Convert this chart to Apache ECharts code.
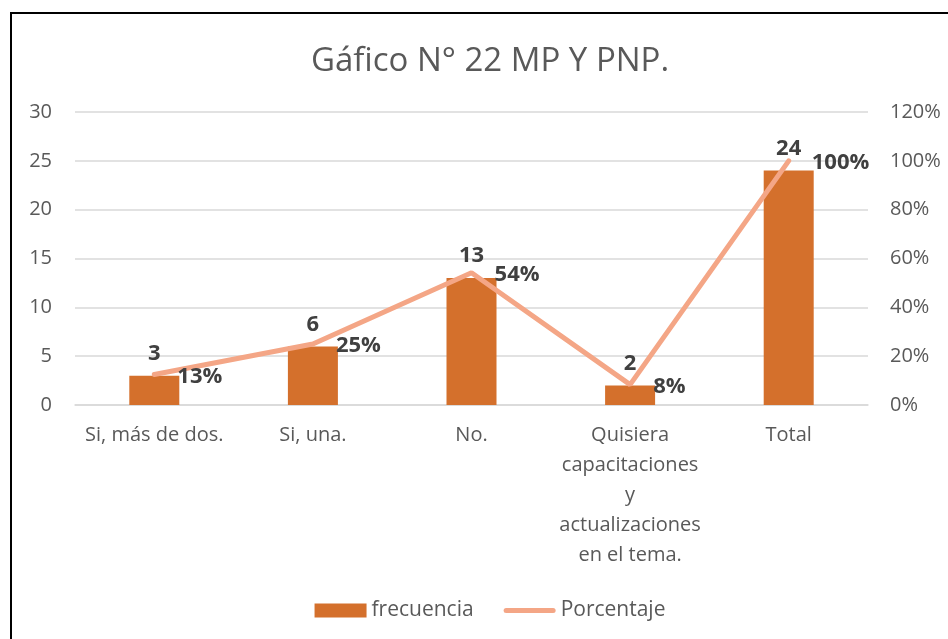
<!DOCTYPE html>
<html>
<head>
<meta charset="utf-8">
<script src="https://cdn.jsdelivr.net/npm/echarts@6/dist/echarts.min.js"></script>
<style>
  html, body { margin: 0; padding: 0; width: 948px; height: 639px; overflow: hidden; background: #fff; }
  #frame { position: absolute; left: 10px; top: 12px; width: 1000px; height: 700px; border: 2px solid #000; }
  #chart { position: absolute; left: 12px; top: 14px; width: 956px; height: 640px; }
</style>
</head>
<body>
<div id="frame"></div>
<div id="chart"></div>
<script>
// datos del gráfico
var categorias = ['Si, más de dos.', 'Si, una.', 'No.', 'Quisiera capacitaciones y actualizaciones en el tema.', 'Total'];
var frecuencia = [3, 6, 13, 2, 24];
var porcentaje = [12.5, 25, 54.17, 8.33, 100];
var ticksIzq = [0, 5, 10, 15, 20, 25, 30];
var ticksDer = [0, 20, 40, 60, 80, 100, 120];

var miChart = echarts.init(document.getElementById('chart'));
var fuente = '"Open Sans", "Noto Sans", sans-serif';
var colorBarra = '#D4702C';
var colorLinea = '#F4A686';

// corta las etiquetas por palabras según el ancho disponible
var ctx = document.createElement('canvas').getContext('2d');
ctx.font = '20px ' + fuente;
function envolver(texto) {
    var palabras = texto.split(' ');
    var lineas = [];
    var actual = '';
    palabras.forEach(function (w) {
        var prueba = actual ? actual + ' ' + w : w;
        if (actual && ctx.measureText(prueba).width > 148) {
            lineas.push(actual);
            actual = w;
        } else {
            actual = prueba;
        }
    });
    lineas.push(actual);
    return lineas.join('\n');
}

var option = {
    animation: false,
    title: {
        text: 'Gáfico N° 22 MP Y PNP.',
        left: 'center',
        top: 26,
        textStyle: { fontFamily: fuente, fontSize: 33, fontWeight: 'normal', color: '#595959' }
    },
    legend: {
        left: 'center',
        top: 581,
        itemWidth: 52,
        itemHeight: 14,
        itemGap: 30,
        textStyle: { fontFamily: fuente, fontSize: 21, color: '#595959' },
        data: [
            { name: 'frecuencia', icon: 'rect' },
            { name: 'Porcentaje', icon: 'path://M2.5,0L49.5,0A2.5,2.5,0,0,1,49.5,5L2.5,5A2.5,2.5,0,0,1,2.5,0Z', itemStyle: { color: colorLinea } }
        ]
    },
    grid: { left: 63, right: 100, top: 98, bottom: 249 },
    xAxis: {
        type: 'category',
        data: categorias,
        axisLine: { lineStyle: { color: '#D9D9D9', width: 1.5 } },
        axisTick: { show: false },
        axisLabel: {
            interval: 0,
            margin: 15,
            lineHeight: 30,
            fontFamily: fuente,
            fontSize: 20,
            color: '#595959',
            formatter: envolver
        }
    },
    yAxis: [
        {
            type: 'value',
            min: ticksIzq[0],
            max: ticksIzq[ticksIzq.length - 1],
            interval: 5,
            axisLine: { show: false },
            axisTick: { show: false },
            splitLine: { lineStyle: { color: '#D9D9D9', width: 1.5 } },
            axisLabel: { margin: 23, fontFamily: fuente, fontSize: 20, color: '#595959' }
        },
        {
            type: 'value',
            min: ticksDer[0],
            max: ticksDer[ticksDer.length - 1],
            interval: 20,
            axisLine: { show: false },
            axisTick: { show: false },
            splitLine: { show: false },
            axisLabel: { margin: 22, fontFamily: fuente, fontSize: 20, color: '#595959', formatter: '{value}%' }
        }
    ],
    series: [
        {
            name: 'frecuencia',
            type: 'bar',
            barWidth: 50,
            data: frecuencia,
            itemStyle: { color: colorBarra },
            label: {
                show: true,
                position: 'top',
                distance: 11,
                fontFamily: fuente,
                fontSize: 22,
                fontWeight: 'bold',
                color: '#404040'
            }
        },
        {
            name: 'Porcentaje',
            type: 'line',
            yAxisIndex: 1,
            data: porcentaje,
            symbol: 'circle',
            symbolSize: 0.1,
            lineStyle: { color: colorLinea, width: 5, cap: 'round' },
            itemStyle: { color: colorLinea },
            label: {
                show: true,
                position: 'right',
                distance: 23,
                offset: [0, 2],
                fontFamily: fuente,
                fontSize: 22,
                fontWeight: 'bold',
                color: '#404040',
                formatter: function (p) { return Math.round(p.value) + '%'; }
            }
        }
    ]
};

miChart.setOption(option, true);
window.addEventListener('resize', function () {
    miChart.resize();
});
</script>
</body>
</html>
